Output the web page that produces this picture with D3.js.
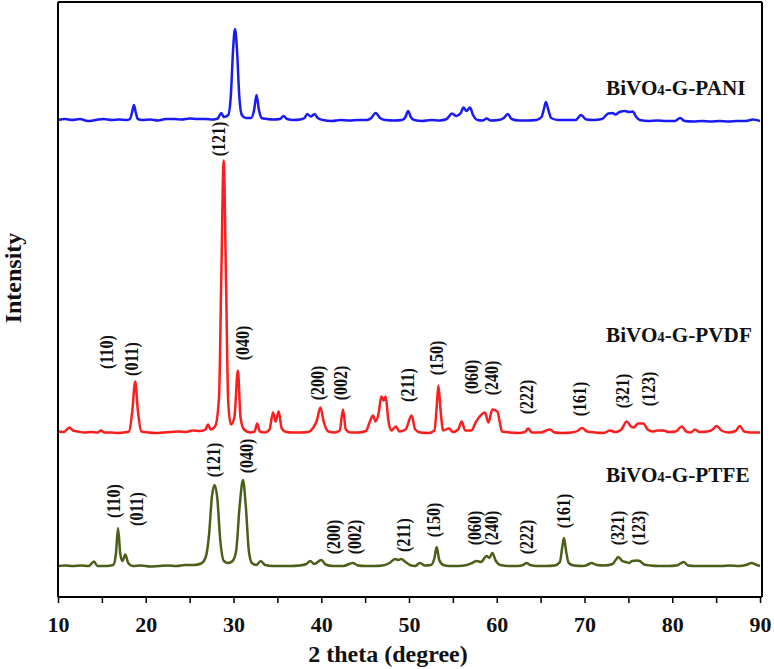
<!DOCTYPE html>

<head>
  <meta charset="utf-8">
  <script src="https://d3js.org/d3.v7.min.js"></script>
  <style>
    body {
      margin: 0;
      background: #fff;
    }

    .trace {
      fill: none;
      stroke-width: 2.5px;
      stroke-linejoin: round;
    }

    text {
      font-family: "Liberation Serif", "Times New Roman", serif;
      font-weight: bold;
      fill: #111;
    }
  </style>
</head>

<body>
  <svg width="774" height="669"></svg>
  <script>
    // 2 theta (deg), intensity above each pattern's own baseline (a.u.)
    var paniData = [
      [10, 0], [10.8, 1], [11.6, 0], [12.5, 1], [13.4, -1], [14.3, 0], [15.2, 1], [16.1, 0], [17, 0.5], [17.8, 0],
      [18.2, 1], [18.45, 8], [18.65, 15], [18.85, 8], [19.1, 1], [19.6, 0], [20.5, 0.5], [21.4, -0.5], [22.3, 1],
      [23.2, 1], [24.1, 0.5], [25, 1.5], [25.9, 1], [26.8, 1], [27.7, 0.5], [28.2, 1.5], [28.6, 7], [28.9, 3],
      [29.4, 5], [29.7, 25], [29.95, 70], [30.17, 91], [30.4, 70], [30.65, 25], [30.95, 5], [31.4, 2], [32, 2],
      [32.35, 10], [32.62, 25], [32.9, 10], [33.2, 2], [33.8, 1], [34.6, 0.5], [35.3, 1], [35.7, 4], [36.1, 1],
      [36.8, 0], [37.6, 0.5], [38.1, 2], [38.4, 6], [38.8, 3.5], [39.25, 6], [39.6, 2], [40.2, 0], [41.2, -1],
      [42.2, 0], [43.2, -0.5], [44.2, 0], [45.2, 0], [45.7, 2], [46.2, 7], [46.7, 2], [47.3, 0], [48.3, -0.5],
      [49.2, 0], [49.6, 3], [49.9, 9], [50.2, 3], [50.6, 0], [51.5, -1], [52.5, 0], [53.5, -0.5], [54.3, 1],
      [54.9, 6.5], [55.4, 4], [55.9, 7], [56.2, 12.5], [56.55, 9], [56.95, 12.5], [57.3, 5], [57.8, 0], [58.4, -0.5],
      [58.85, 1.5], [59.3, -0.5], [60.2, 0], [60.8, 2], [61.25, 6], [61.7, 1], [62.5, -0.5], [63.5, -0.5], [64.5, 0],
      [65.1, 3], [65.4, 12], [65.6, 18], [65.85, 11], [66.2, 2], [67, 0], [68, 0], [69, 0], [69.6, 5], [70.2, 0.5],
      [71, 0], [72, 1], [72.7, 6.5], [73.2, 7], [73.5, 5.5], [74, 8], [74.6, 9], [75.1, 8], [75.5, 8.5], [75.9, 3],
      [76.3, 0], [77.3, -1], [78.3, -0.5], [79.3, -1], [80.3, -1], [80.9, 2], [81.4, -1], [82.4, -1.5], [83.4, -1],
      [84.4, -1.5], [85.4, -1], [86.4, -1.5], [87.4, -1], [88.4, -1], [89.2, 0.5], [90, -1]
    ];

    var pvdfData = [
      [10, 1], [10.7, 0.5], [11.0, 3], [11.3, 5], [11.7, 2], [12.3, 1], [13, 0], [13.8, 0.5], [14.5, 0], [14.9, 2],
      [15.3, 0], [16, 0], [16.8, -0.5], [17.5, 0], [18.1, 1], [18.45, 20], [18.8, 51], [19.1, 22], [19.5, 1],
      [20.3, 0], [21.1, -0.5], [22, 0], [22.9, 0.5], [23.8, 1], [24.6, 0.5], [25.3, 2], [26.2, 1.5], [26.8, 3],
      [27.1, 8], [27.4, 3], [27.9, 6], [28.35, 35], [28.6, 150], [28.88, 272], [29.15, 150], [29.4, 30], [29.7, 8],
      [30.1, 15], [30.5, 62], [30.8, 15], [31.2, 3], [31.9, 0], [32.4, 1], [32.7, 9], [33, 1], [33.6, 0], [34.1, 3],
      [34.5, 20], [34.8, 11], [35.15, 21], [35.5, 4], [36, 0.5], [36.8, 0], [37.6, 0], [38.5, 0.5], [39.1, 5],
      [39.5, 12], [39.9, 25], [40.3, 10], [40.8, 1], [41.5, 0], [42.1, 2], [42.48, 23], [42.8, 3], [43.3, 0],
      [44.2, 0], [45.1, 1.5], [45.5, 10], [45.9, 17], [46.2, 11], [46.55, 20], [46.85, 36], [47.1, 32], [47.34, 36],
      [47.65, 12], [48, 2], [48.5, 6], [48.9, 1], [49.6, 3], [50.3, 17], [50.7, 3], [51.3, 0], [52.2, -0.5],
      [52.9, 2], [53.15, 25], [53.35, 47], [53.6, 22], [53.9, 2], [54.55, 4], [55, 0.5], [55.6, 3], [56.0, 11],
      [56.4, 2], [57.1, 2], [57.6, 10], [58.1, 16.5], [58.66, 20], [59.05, 10], [59.5, 23], [60.07, 21], [60.35, 10],
      [60.6, 1], [61.5, 0], [62.5, -0.5], [63.2, 0.5], [63.6, 4], [64, 0], [65, 0], [66.07, 3], [66.6, 0],
      [67.5, -0.5], [68.5, 0], [69.2, 1.5], [69.7, 4.5], [70.3, 1], [71.2, 0], [72.2, -0.5], [72.9, 2], [73.5, 0.5],
      [74.2, 3], [74.8, 11], [75.3, 6], [75.6, 5], [76.1, 9], [76.7, 9], [77.2, 3], [77.8, 1], [78.3, 2], [79, 2],
      [79.6, 0.5], [80.4, 1], [81.07, 6], [81.6, 1], [82.1, 0], [82.6, 3], [83.1, 0.5], [84, 1], [84.6, 3],
      [85.06, 6.5], [85.6, 2], [86.4, 0], [87.2, 1.5], [87.7, 6.5], [88.2, 1], [89, 0], [90, 0]
    ];

    var ptfeData = [
      [10, 0], [10.8, 0.5], [11.7, 0], [12.6, 0.5], [13.5, 0], [14.1, 4.5], [14.5, 0], [15.5, 0], [16.3, 1],
      [16.6, 12], [16.84, 38], [17.1, 12], [17.35, 5], [17.67, 11.5], [18.0, 3], [18.5, 0], [19.5, 0.5], [20.5, -0.5],
      [21.5, 0], [22.5, 0.5], [23.5, 0], [24.5, 1], [25.5, 1], [26.3, 2.5], [26.8, 8], [27.2, 30], [27.55, 70],
      [27.86, 81], [28.15, 68], [28.5, 25], [28.9, 5], [29.4, 3], [29.9, 5], [30.3, 15], [30.7, 60], [31.08, 86],
      [31.4, 60], [31.75, 15], [32.1, 3], [32.6, 1], [33.1, 5], [33.6, 1], [34.5, 0], [35.5, 0], [36.5, 0],
      [37.5, 0.5], [38.3, 2], [38.75, 5], [39.2, 2], [40.0, 6], [40.5, 1.5], [41.3, 0], [42.5, 0], [43.6, 3],
      [44.2, 0.5], [45, 0], [46, 0], [47, 0.5], [47.8, 3], [48.4, 7], [48.8, 6], [49.1, 7], [49.6, 4], [50.1, 1],
      [50.7, 0], [51.25, 3], [51.8, 0.5], [52.5, 1], [52.9, 8], [53.15, 19], [53.45, 6], [53.9, 1], [54.6, 0],
      [55.6, 0], [56.6, 1], [57.2, 3], [57.7, 5], [58.2, 4], [58.85, 10], [59.15, 8], [59.5, 13], [59.9, 5],
      [60.4, 1], [61.4, 0], [62.4, 0], [63, 1], [63.4, 3], [63.8, 1], [64.6, 0], [65.6, 0], [66.6, 0.5], [67.2, 4],
      [67.45, 18], [67.66, 28], [67.9, 15], [68.2, 3], [68.8, 0.5], [69.8, 0], [70.3, 1], [70.8, 3], [71.4, 1],
      [72.3, 0.5], [73.2, 2], [73.55, 6], [73.85, 9], [74.3, 5], [74.7, 4], [75.1, 3], [75.4, 5], [76.0, 5.5],
      [76.3, 5], [76.8, 1.5], [77.5, 0.5], [78.5, 0], [79.5, 0], [80.5, 0.5], [81.3, 4], [81.8, 0.5], [82.6, 0],
      [83.6, 0], [84.6, 0], [85.6, 0], [86.6, 0.5], [87.6, 0], [88.4, 1], [89.05, 3], [89.5, 1.5], [90, 0]
    ];

    var seriesNames = ["BiVO4-G-PANI", "BiVO4-G-PVDF", "BiVO4-G-PTFE"];
    var seriesOffsets = [477, 164.5, 31];
    var seriesColors = ["#1a1af5", "#fa1e1e", "#4b5f19"];
    var seriesLabelY = [502, 255, 115];

    // Miller index labels: [text, 2 theta, intensity]
    var pvdfPeaks = [
      ["(110)", 15.55, 245], ["(011)", 18.4, 238], ["(121)", 28.27, 458], ["(040)", 31.05, 254],
      ["(200)", 39.55, 214], ["(002)", 42.2, 214], ["(211)", 49.85, 212], ["(150)", 53.15, 239],
      ["(060)", 57.15, 220], ["(240)", 59.4, 219], ["(222)", 63.4, 200], ["(161)", 69.4, 198],
      ["(321)", 74.3, 206], ["(123)", 77.3, 208]
    ];
    var ptfePeaks = [
      ["(110)", 16.3, 96], ["(011)", 18.97, 88], ["(121)", 27.7, 137], ["(040)", 31.5, 141],
      ["(200)", 41.37, 60], ["(002)", 43.85, 60], ["(211)", 49.43, 62], ["(150)", 52.77, 77],
      ["(060)", 57.52, 69], ["(240)", 59.42, 69], ["(222)", 63.4, 60], ["(161)", 67.58, 86],
      ["(321)", 73.78, 69], ["(123)", 76.13, 69]
    ];

    var xTicks = d3.range(10, 91, 5);

    var svg = d3.select("svg");
    var plotLeft = 58, plotRight = 760, plotTop = 2, plotBottom = 597;

    var x = d3.scaleLinear().domain([10, 90]).range([plotLeft, plotRight]);
    var y = d3.scaleLinear().domain([0, 595]).range([plotBottom, plotTop]);

    var allSeries = [paniData, pvdfData, ptfeData];

    // traces
    allSeries.forEach(function (data, i) {
      var line = d3.line()
        .curve(d3.curveMonotoneX)
        .x(function (d) { return x(d[0]); })
        .y(function (d) { return y(d[1] + seriesOffsets[i]); });

      svg.append("path")
        .datum(data)
        .attr("class", "trace")
        .attr("stroke", seriesColors[i])
        .attr("d", line);

      var lab = svg.append("text")
        .attr("transform", "translate(" + x(72.45) + "," + y(seriesLabelY[i]) + ") scale(1.06,1)")
        .style("font-size", "20px");
      var parts = seriesNames[i].split("4");
      lab.append("tspan").text(parts[0]);
      lab.append("tspan").style("font-size", "14px").text("4");
      lab.append("tspan").text(parts[1]);
    });

    // peak labels (the source figure is a little stretched sideways)
    [pvdfPeaks, ptfePeaks].forEach(function (peaks) {
      svg.selectAll(null)
        .data(peaks)
        .enter().append("text")
        .attr("transform", function (d) { return "translate(" + x(d[1]) + "," + y(d[2]) + ") scale(1.15,1) rotate(-90)"; })
        .attr("text-anchor", "middle")
        .attr("dy", "0.35em")
        .style("font-size", "16px")
        .text(function (d) { return d[0]; });
    });

    // frame
    svg.append("line").attr("x1", plotLeft).attr("x2", plotLeft).attr("y1", plotTop).attr("y2", plotBottom)
      .attr("stroke", "#000").attr("stroke-width", 2);
    svg.append("line").attr("x1", plotLeft).attr("x2", plotRight + 2).attr("y1", plotTop).attr("y2", plotTop)
      .attr("stroke", "#000").attr("stroke-width", 2);
    svg.append("line").attr("x1", plotRight + 2).attr("x2", plotRight + 2).attr("y1", plotTop).attr("y2", plotBottom)
      .attr("stroke", "#000").attr("stroke-width", 2);

    var xAxis = d3.axisBottom(x)
      .tickValues(xTicks)
      .tickSize(6)
      .tickPadding(13)
      .tickSizeOuter(0)
      .tickFormat(function (d) { return d % 10 ? "" : d; });

    var gx = svg.append("g")
      .attr("transform", "translate(0," + plotBottom + ")")
      .call(xAxis);
    gx.select(".domain").attr("stroke-width", 2).attr("d", "M" + plotLeft + ",0H" + (plotRight + 2));
    gx.selectAll(".tick line").attr("stroke-width", 1.5);
    gx.selectAll(".tick text")
      .style("font-family", "'Liberation Serif', serif")
      .style("font-weight", "bold")
      .style("font-size", "22px")
      .attr("fill", "#111");

    svg.append("text")
      .attr("x", 388)
      .attr("y", 662)
      .attr("text-anchor", "middle")
      .style("font-size", "24px")
      .text("2 theta (degree)");

    svg.append("text")
      .attr("transform", "translate(21,278) scale(0.95,1) rotate(-90)")
      .attr("text-anchor", "middle")
      .style("font-size", "24px")
      .text("Intensity");
  </script>
</body>
